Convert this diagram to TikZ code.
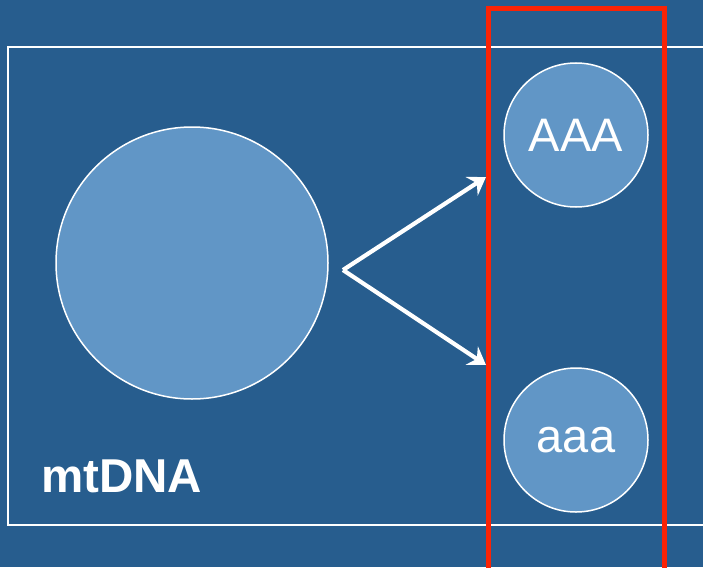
\documentclass[tikz,border=0pt]{standalone}
\usepackage{fontspec}
\setmainfont{Liberation Sans}
\usetikzlibrary{arrows.meta}
\definecolor{bgblue}{RGB}{39,93,142}
\definecolor{cfill}{RGB}{97,150,198}
\definecolor{redbox}{RGB}{250,35,5}
\tikzset{
  cell/.style={circle, draw=white, line width=1.5pt, fill=cfill, inner sep=0pt, text=white, font=\fontsize{47}{50}\selectfont},
  arr/.style={draw=white, line width=4.2pt, -{Stealth[length=17pt, width=22pt, inset=6pt]}},
}
\begin{document}
\begin{tikzpicture}[x=1pt, y=-1pt]
\fill[bgblue] (0,0) rectangle (703,567);
\useasboundingbox (0,0) rectangle (703,567);
\draw[white, line width=1.5pt] (705,47) -- (8,47) -- (8,525) -- (705,525);
\node[cell, minimum size=272pt] (big) at (192,263) {};
\node[cell, minimum size=144pt] (AAA) at (576,135) {AAA};
\node[cell, minimum size=144pt] (aaa) at (576,440) {aaa};
\coordinate (src) at (343,270);
\coordinate (t1) at (486,177);
\coordinate (t2) at (486,365);
\draw[arr] (src) -- (t1);
\draw[arr] (src) -- (t2);
\draw[redbox, line width=5pt] (488.5,575) -- (488.5,8.5) -- (664.5,8.5) -- (664.5,575);
\node[text=white, font=\bfseries\fontsize{47.5}{50}\selectfont, anchor=base west, inner sep=0pt] (lbl) at (41,492) {mtDNA};
\end{tikzpicture}
\end{document}
